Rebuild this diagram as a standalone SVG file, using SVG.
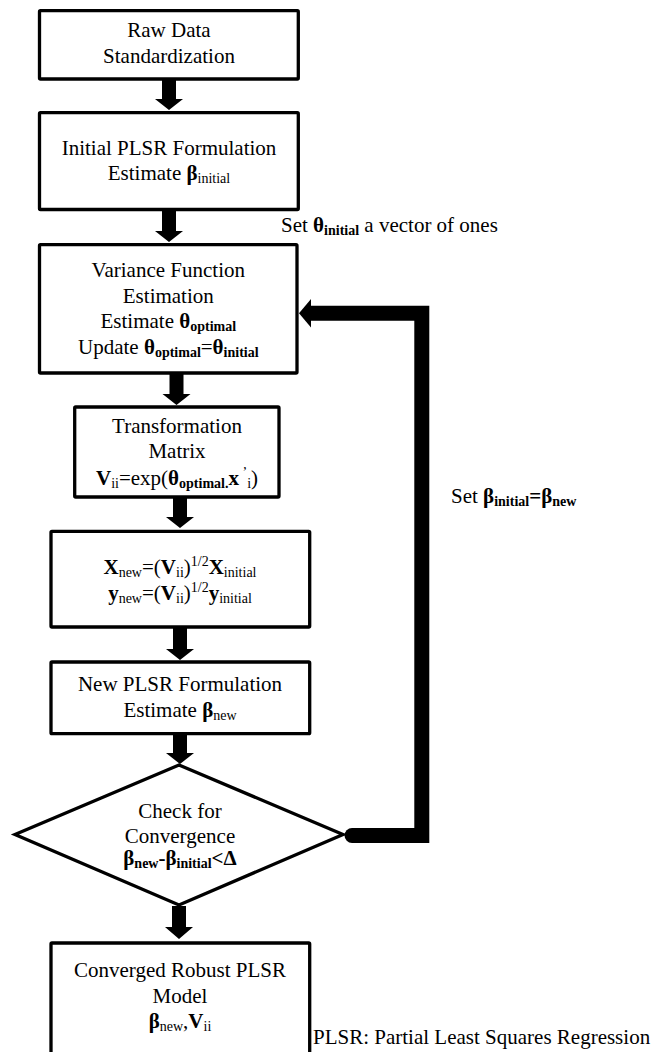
<svg xmlns="http://www.w3.org/2000/svg" width="651" height="1052" viewBox="0 0 651 1052">
  <style>
    .t { font-family: "Liberation Serif", "Times New Roman", serif; font-size: 21px; fill: #000; }
    .c { text-anchor: middle; }
    .b { font-weight: bold; }
    .s { font-size: 14px; }
    .box { fill: #fff; stroke: #000; stroke-width: 3.3; }
    .arrow { fill: #000; stroke: none; }
    .loop { fill: none; stroke: #000; stroke-width: 15; stroke-linejoin: miter; }
  </style>

  <rect width="651" height="1052" fill="#fff"/>

  <!-- connectors -->
  <g id="connectors">
    <!-- downward block arrows: shaft half-width 7, head half-width 14, head length 11 -->
    <polygon class="arrow" points="162,80 176,80 176,99 183,99 169,110 155,99 162,99"/>
    <polygon class="arrow" points="162,210 176,210 176,231 183,231 169,242 155,231 162,231"/>
    <polygon class="arrow" points="169.5,373 183.5,373 183.5,394 190.5,394 176.5,405 162.5,394 169.5,394"/>
    <polygon class="arrow" points="173,497 187,497 187,517 194,517 180,528 166,517 173,517"/>
    <polygon class="arrow" points="173,628 187,628 187,649 194,649 180,660 166,649 173,649"/>
    <polygon class="arrow" points="173,734 187,734 187,753 194,753 180,764 166,753 173,753"/>
    <polygon class="arrow" points="172,906 186,906 186,927 193,927 179,939 165,927 172,927"/>
    <!-- feedback loop from the decision back to variance estimation -->
    <path class="loop" d="M352,835.5 H421.8 V313.3 H309"/>
    <circle cx="352" cy="835.5" r="7.5" fill="#000"/>
    <polygon class="arrow" points="299,313.3 311,299 311,327.6"/>
    <text class="t" x="281" y="231.5">Set <tspan class="b">θ</tspan><tspan class="b s" dy="3">initial</tspan><tspan dy="-3"> a vector of ones</tspan></text>
    <text class="t" x="451" y="503">Set <tspan class="b">β</tspan><tspan class="b s" dy="3">initial</tspan><tspan class="b" dy="-3">=β</tspan><tspan class="b s" dy="3">new</tspan></text>
  </g>

  <g id="raw-data">
    <rect class="box" x="39.5" y="10.7" width="258.8" height="68.3" rx="1"/>
    <text class="t c" x="169" y="37.3">Raw Data</text>
    <text class="t c" x="169" y="63.3">Standardization</text>
  </g>

  <g id="initial-plsr">
    <rect class="box" x="39.5" y="112.7" width="258.8" height="96.8" rx="1"/>
    <text class="t c" x="169" y="155">Initial PLSR Formulation</text>
    <text class="t c" x="169" y="180">Estimate <tspan class="b">β</tspan><tspan class="s" dy="3">initial</tspan></text>
  </g>

  <g id="variance-function">
    <rect class="box" x="39.5" y="244.7" width="257.5" height="128.3" rx="1"/>
    <text class="t c" x="168.3" y="277.3">Variance Function</text>
    <text class="t c" x="168.3" y="302.7">Estimation</text>
    <text class="t c" x="168.3" y="328">Estimate <tspan class="b">θ</tspan><tspan class="b s" dy="3">optimal</tspan></text>
    <text class="t c" x="168.3" y="354">Update <tspan class="b">θ</tspan><tspan class="b s" dy="3">optimal</tspan><tspan dy="-3">=</tspan><tspan class="b">θ</tspan><tspan class="b s" dy="3">initial</tspan></text>
  </g>

  <g id="transformation-matrix">
    <rect class="box" x="74.7" y="407" width="204.3" height="90" rx="1"/>
    <text class="t c" x="177" y="433.3">Transformation</text>
    <text class="t c" x="177" y="458.3">Matrix</text>
    <text class="t c" x="177" y="485"><tspan class="b">V</tspan><tspan class="s" dy="3">ii</tspan><tspan dy="-3">=exp(</tspan><tspan class="b">θ</tspan><tspan class="b s" dy="3">optimal.</tspan><tspan class="b" dy="-3">x</tspan><tspan class="s" dy="-8"> ʼ</tspan><tspan class="s" dy="11">i</tspan><tspan dy="-3">)</tspan></text>
  </g>

  <g id="weighted-data">
    <rect class="box" x="51" y="531.3" width="258.7" height="95.7" rx="1"/>
    <text class="t c" x="180" y="574.3"><tspan class="b">X</tspan><tspan class="s" dy="3">new</tspan><tspan dy="-3">=(</tspan><tspan class="b">V</tspan><tspan class="s" dy="3">ii</tspan><tspan dy="-3">)</tspan><tspan class="s" dy="-8">1/2</tspan><tspan class="b" dy="8">X</tspan><tspan class="s" dy="3">initial</tspan></text>
    <text class="t c" x="180" y="600"><tspan class="b">y</tspan><tspan class="s" dy="3">new</tspan><tspan dy="-3">=(</tspan><tspan class="b">V</tspan><tspan class="s" dy="3">ii</tspan><tspan dy="-3">)</tspan><tspan class="s" dy="-8">1/2</tspan><tspan class="b" dy="8">y</tspan><tspan class="s" dy="3">initial</tspan></text>
  </g>

  <g id="new-plsr">
    <rect class="box" x="51" y="662" width="258.7" height="71.7" rx="1"/>
    <text class="t c" x="180" y="690.7">New PLSR Formulation</text>
    <text class="t c" x="180" y="716.7">Estimate <tspan class="b">β</tspan><tspan class="s" dy="3">new</tspan></text>
  </g>

  <g id="convergence-check">
    <polygon class="box" points="179,765 343,834.5 179,905 15,834.5"/>
    <text class="t c" x="180" y="817.5">Check for</text>
    <text class="t c" x="180" y="842.5">Convergence</text>
    <text class="t c b" x="180" y="865"><tspan>β</tspan><tspan class="s" dy="3">new</tspan><tspan dy="-3">-β</tspan><tspan class="s" dy="3">initial</tspan><tspan dy="-3">&lt;Δ</tspan></text>
  </g>

  <g id="robust-model">
    <rect class="box" x="51" y="943" width="258.7" height="115" rx="1"/>
    <text class="t c" x="180" y="976.7">Converged Robust PLSR</text>
    <text class="t c" x="180" y="1003.3">Model</text>
    <text class="t c" x="180" y="1028.3"><tspan class="b">β</tspan><tspan class="s" dy="3">new</tspan><tspan dy="-3">,</tspan><tspan class="b">V</tspan><tspan class="s" dy="3">ii</tspan></text>
  </g>

  <text id="abbreviation" class="t" x="313" y="1044">PLSR: Partial Least Squares Regression</text>
</svg>
